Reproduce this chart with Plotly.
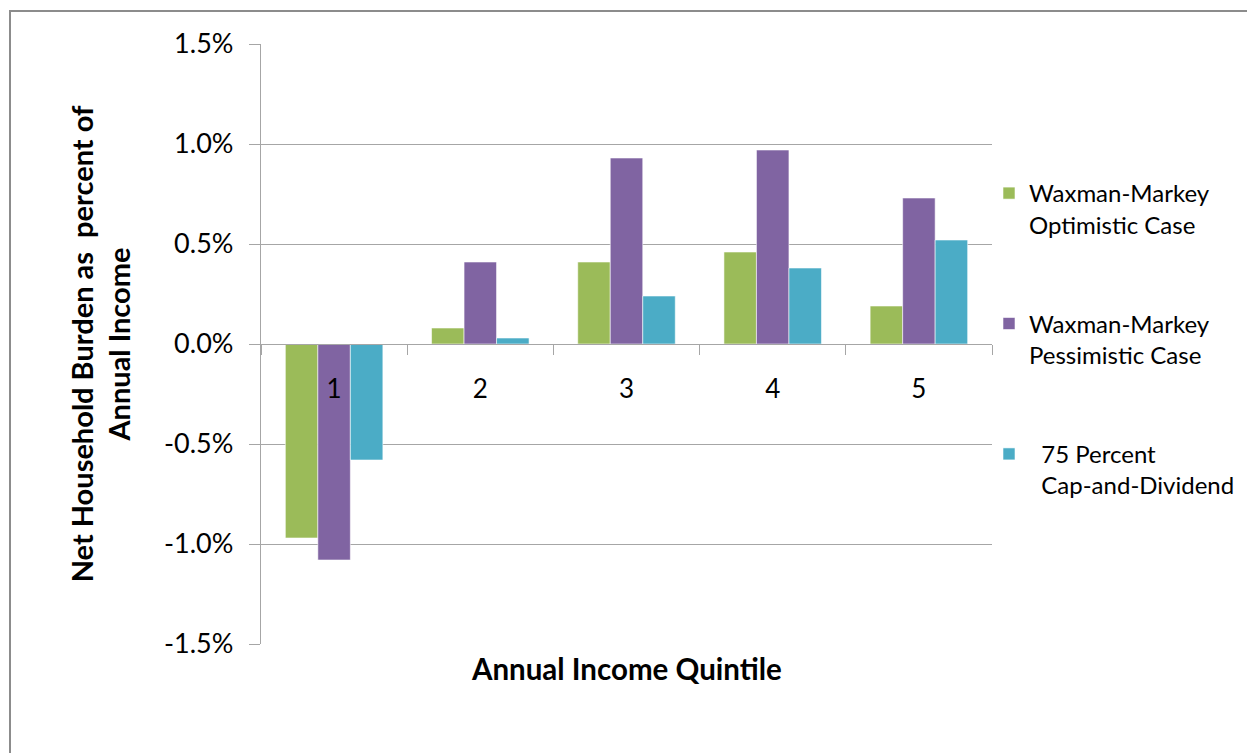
import plotly.graph_objects as go

quintiles = ["1", "2", "3", "4", "5"]
optimistic = [-0.97, 0.08, 0.41, 0.46, 0.19]
pessimistic = [-1.08, 0.41, 0.93, 0.97, 0.73]
cap_dividend = [-0.58, 0.03, 0.24, 0.38, 0.52]

series_names = [
    "Waxman-Markey<br>Optimistic Case",
    "Waxman-Markey<br>Pessimistic Case",
    "\u00a0\u00a075 Percent<br>\u00a0\u00a0Cap-and-Dividend",
]
series_colors = ["#9BBB59", "#8064A2", "#4BACC6"]

y_tickvals = [-1.5, -1.0, -0.5, 0.0, 0.5, 1.0, 1.5]
y_ticktext = ["-1.5%", "-1.0%", "-0.5%", "0.0%", "0.5%", "1.0%", "1.5%"]

W, H = 1247, 753
L, R, T, B = 261, 255, 44, 109
pw = W - L - R
ph = H - T - B

fig = go.Figure()
for i, (name, vals, col) in enumerate(zip(series_names, [optimistic, pessimistic, cap_dividend], series_colors)):
    fig.add_trace(go.Bar(
        x=quintiles, y=vals, name=name, legendgroup=f"g{i}",
        marker=dict(color=col, line=dict(color="rgba(255,255,255,0.7)", width=0.8)),
    ))

CAL = "Lato, 'Open Sans', sans-serif"
grid = "#A6A6A6"

fig.update_layout(
    width=W, height=H,
    margin=dict(l=L, r=R, t=T, b=B, autoexpand=False),
    paper_bgcolor="white", plot_bgcolor="white",
    barmode="group", bargap=0.333, bargroupgap=0,
    font=dict(family=CAL, color="#000000"),
    showlegend=True,
    legend=dict(
        xref="container", yref="container",
        x=989 / W, xanchor="left",
        y=1 - 171 / H, yanchor="top",
        traceorder="grouped", tracegroupgap=65, valign="top",
        font=dict(family=CAL, size=24, color="#000000"),
        bgcolor="rgba(0,0,0,0)",
    ),
    xaxis=dict(
        type="category", anchor="free", position=0.5,
        showline=True, linecolor=grid, linewidth=1.3,
        ticks="outside", ticklen=10, tickcolor=grid, tickwidth=1.3,
        tickson="boundaries", showgrid=False,
        tickfont=dict(family=CAL, size=26, color="#000000"),
        ticklabelstandoff=22,
        range=[-0.5, 4.5],
    ),
    yaxis=dict(
        range=[-1.5, 1.5], tickvals=y_tickvals, ticktext=y_ticktext,
        showline=True, linecolor=grid, linewidth=1.3,
        ticks="outside", ticklen=11, tickcolor=grid, tickwidth=1.3,
        showgrid=True, gridcolor=grid, gridwidth=1.3,
        zeroline=False,
        tickfont=dict(family=CAL, size=27, color="#000000"),
        ticklabelstandoff=10,
        title=dict(
            text="<b>Net Household Burden as  percent of<br>Annual Income</b>",
            font=dict(family=CAL, size=29, color="#000000"),
            standoff=24,
        ),
    ),
    annotations=[dict(
        text="<b>Annual Income Quintile</b>", xref="paper", yref="paper",
        x=0.5, y=(H - B - 668) / ph, xanchor="center", yanchor="middle",
        showarrow=False, font=dict(family=CAL, size=29.5, color="#000000"),
    )],
)

fig.add_shape(
    type="rect", xref="paper", yref="paper",
    x0=(10 - L) / pw, x1=(W + 20 - L) / pw,
    y0=(H - B - (H + 20)) / ph, y1=(H - B - 11) / ph,
    line=dict(color="#8C8C8C", width=2), fillcolor="rgba(0,0,0,0)", layer="below",
)

fig.write_html("out.html")
